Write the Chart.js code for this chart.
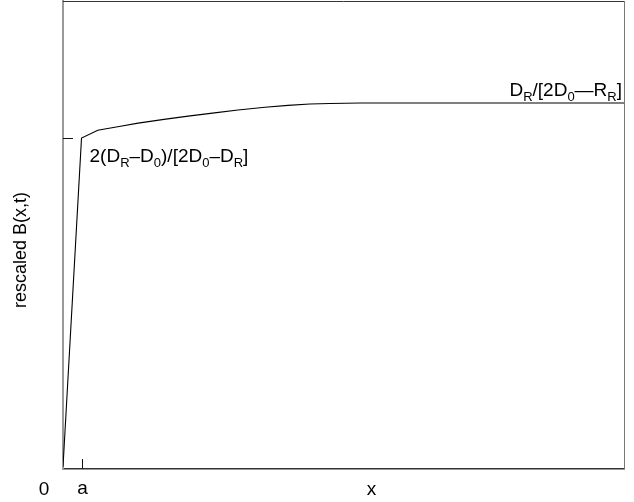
<!DOCTYPE html>
<html>
<head>
<meta charset="utf-8">
<script src="https://cdn.jsdelivr.net/npm/chart.js@4/dist/chart.umd.min.js"></script>
<style>
html,body{margin:0;padding:0;background:#fff;}
#wrap{width:634px;height:502px;position:relative;}
</style>
</head>
<body>
<div id="wrap"><canvas id="c" width="634" height="502"></canvas></div>
<script>
// Profile of rescaled B(x,t) (arbitrary units, 0..1)
const xValues = [0, 0.033, 0.062, 0.100, 0.134, 0.180, 0.223, 0.270, 0.312, 0.360, 0.401, 0.440, 0.476, 0.530, 0.601, 1.0];
const bValues = [0.005, 0.707, 0.724, 0.732, 0.739, 0.747, 0.754, 0.761, 0.767, 0.773, 0.777, 0.780, 0.781, 0.782, 0.782, 0.782];
const aPosition = 0.033;        // x position of tick "a"
const levelInner = 0.707;      // left-axis tick level
const xTickLabels = ["0", "a"];
const xTitle = "x";
const yTitle = "rescaled B(x,t)";

const FONT = "'Liberation Sans', Arial, Helvetica, sans-serif";

function drawSub(ctx, parts, x, y, big, small, align) {
  let w = 0;
  parts.forEach(p => { ctx.font = (p[1] ? small : big) + "px " + FONT; w += ctx.measureText(p[0]).width; });
  let cx = align === "right" ? x - w : x;
  parts.forEach(p => {
    ctx.font = (p[1] ? small : big) + "px " + FONT;
    ctx.fillText(p[0], cx, p[1] ? y + 5 : y);
    cx += ctx.measureText(p[0]).width;
  });
}

const deco = {
  id: "deco",
  afterDraw(chart) {
    const ctx = chart.ctx, a = chart.chartArea;
    const xs = chart.scales.x, ys = chart.scales.y;
    ctx.save();
    ctx.strokeStyle = "#333"; ctx.lineWidth = 1;
    ctx.beginPath(); ctx.moveTo(a.left, a.top + 0.5); ctx.lineTo(a.right, a.top + 0.5); ctx.stroke();
    ctx.strokeStyle = "#777";
    ctx.beginPath(); ctx.moveTo(a.right + 0.5, a.top); ctx.lineTo(a.right + 0.5, a.bottom); ctx.stroke();
    ctx.strokeStyle = "#111"; ctx.lineWidth = 1;
    const ty = Math.round(ys.getPixelForValue(levelInner)) + 0.5;
    ctx.beginPath(); ctx.moveTo(a.left, ty); ctx.lineTo(a.left + 10, ty); ctx.stroke();
    const tx = Math.round(xs.getPixelForValue(aPosition)) + 0.5;
    ctx.beginPath(); ctx.moveTo(tx, a.bottom); ctx.lineTo(tx, a.bottom - 10); ctx.stroke();
    ctx.fillStyle = "#000"; ctx.textBaseline = "middle"; ctx.textAlign = "center";
    ctx.font = "19px " + FONT;
    ctx.fillText(xTickLabels[0], a.left - 19, 490);
    ctx.fillText(xTickLabels[1], tx, 489);
    ctx.fillText(xTitle, (a.left + a.right) / 2 + 28, 490);
    ctx.save();
    ctx.translate(21, 250);
    ctx.rotate(-Math.PI / 2);
    ctx.font = "18px " + FONT;
    ctx.fillText(yTitle, 0, 0);
    ctx.restore();
    ctx.textAlign = "left"; ctx.textBaseline = "alphabetic";
    drawSub(ctx, [["2(D",0],["R",1],["\u2013D",0],["0",1],[")/[2D",0],["0",1],["\u2013D",0],["R",1],["]",0]],
      xs.getPixelForValue(aPosition) + 8, 162, 19, 13, "left");
    drawSub(ctx, [["D",0],["R",1],["/[2D",0],["0",1],["\u2014R",0],["R",1],["]",0]],
      a.right - 2, 96, 19, 13, "right");
    ctx.restore();
  }
};

new Chart(document.getElementById("c"), {
  type: "scatter",
  data: {
    datasets: [{
      data: xValues.map((x, i) => ({ x: x, y: bValues[i] })),
      showLine: true,
      borderColor: "#000",
      borderWidth: 1.1,
      pointRadius: 0,
      tension: 0,
      fill: false
    }]
  },
  options: {
    responsive: false,
    animation: false,
    layout: { padding: { left: 63, top: 1, right: 10, bottom: 33 } },
    plugins: { legend: { display: false }, tooltip: { enabled: false } },
    scales: {
      x: {
        type: "linear", min: 0, max: 1,
        ticks: { display: false },
        grid: { display: false, drawTicks: false },
        border: { display: true, color: "#333", width: 1.5 },
        afterFit(s) { s.height = 0; }
      },
      y: {
        type: "linear", min: 0, max: 1,
        ticks: { display: false },
        grid: { display: false, drawTicks: false },
        border: { display: true, color: "#999", width: 2 },
        afterFit(s) { s.width = 0; }
      }
    }
  },
  plugins: [deco]
});
</script>
</body>
</html>
